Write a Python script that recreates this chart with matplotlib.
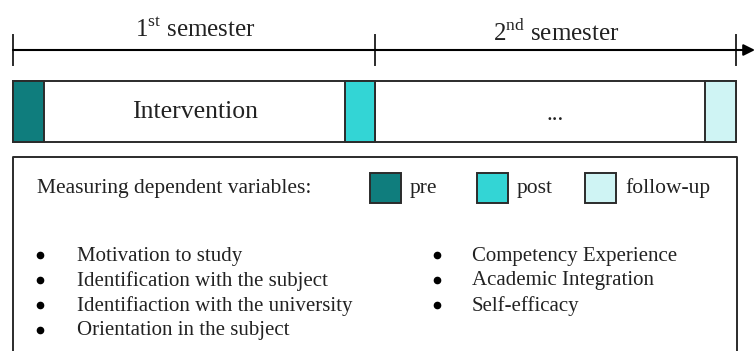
import matplotlib.pyplot as plt
from matplotlib.patches import Rectangle

plt.rcParams['font.family'] = ['Liberation Serif', 'DejaVu Serif']
plt.rcParams['mathtext.fontset'] = 'custom'
plt.rcParams['mathtext.rm'] = 'Liberation Serif'

# Content of the diagram
semesters = [r'1$^{\mathrm{st}}$ semester', r'2$^{\mathrm{nd}}$ semester']
phase_labels = ['Intervention', '...']
legend_labels = ['pre', 'post', 'follow-up']
legend_colors = ['#0f7d7d', '#33d5d5', '#cff4f4']
left_items = ['Motivation to study', 'Identification with the subject',
              'Identifiaction with the university', 'Orientation in the subject']
right_items = ['Competency Experience', 'Academic Integration', 'Self-efficacy']

edge = '#2b2b2b'

fig = plt.figure(figsize=(7.55, 3.51), dpi=100)
ax = fig.add_axes([0, 0, 1, 1])
ax.set_xlim(0, 755)
ax.set_ylim(351, 0)
ax.axis('off')

# timeline with ticks
ax.annotate('', xy=(755, 50), xytext=(13, 50), annotation_clip=False,
            arrowprops=dict(arrowstyle='-|>', lw=1.5, color='black',
                            mutation_scale=17, shrinkA=0, shrinkB=0))
for x in [13, 375, 736]:
    ax.plot([x, x], [35, 65], color=edge, lw=1.4)
ax.text(195, 30, semesters[0], ha='center', va='center', fontsize=18, color='#222')
ax.text(556, 33, semesters[1], ha='center', va='center', fontsize=18, color='#222')

# phase bars
ax.add_patch(Rectangle((13, 81), 362, 61, fc='white', ec=edge, lw=1.4))
ax.add_patch(Rectangle((375, 81), 361, 61, fc='white', ec=edge, lw=1.4))
ax.add_patch(Rectangle((13, 81), 31, 61, fc=legend_colors[0], ec=edge, lw=1.4))
ax.add_patch(Rectangle((345, 81), 30, 61, fc=legend_colors[1], ec=edge, lw=1.4))
ax.add_patch(Rectangle((705, 81), 31, 61, fc=legend_colors[2], ec=edge, lw=1.4))
ax.text(195, 112, phase_labels[0], ha='center', va='center', fontsize=18.5, color='#222')
ax.text(555, 114, phase_labels[1], ha='center', va='center', fontsize=17, color='#222')

# lower box (cut off by bottom edge)
ax.plot([13, 13, 737, 737], [353, 157, 157, 353], color=edge, lw=1.4)
ax.text(37, 189, 'Measuring dependent variables:', ha='left', va='center',
        fontsize=15.5, color='#222')

legend_x = [370, 477, 585]
for x, lab, col in zip(legend_x, legend_labels, legend_colors):
    ax.add_patch(Rectangle((x, 173), 31, 30, fc=col, ec=edge, lw=1.4))
    ax.text(x + 40, 188, lab, ha='left', va='center', fontsize=15.5, color='#222')

row_y = [256, 281, 306, 331]
for y, item in zip(row_y, left_items):
    ax.plot(40, y - 1, 'o', ms=4.5, color='black')
    ax.text(77, y, item, ha='left', va='center', fontsize=15, color='#222')
for y, item in zip(row_y, right_items):
    ax.plot(437, y - 1, 'o', ms=4.5, color='black')
    ax.text(472, y, item, ha='left', va='center', fontsize=15, color='#222')

fig.savefig('out.png', dpi=100)
